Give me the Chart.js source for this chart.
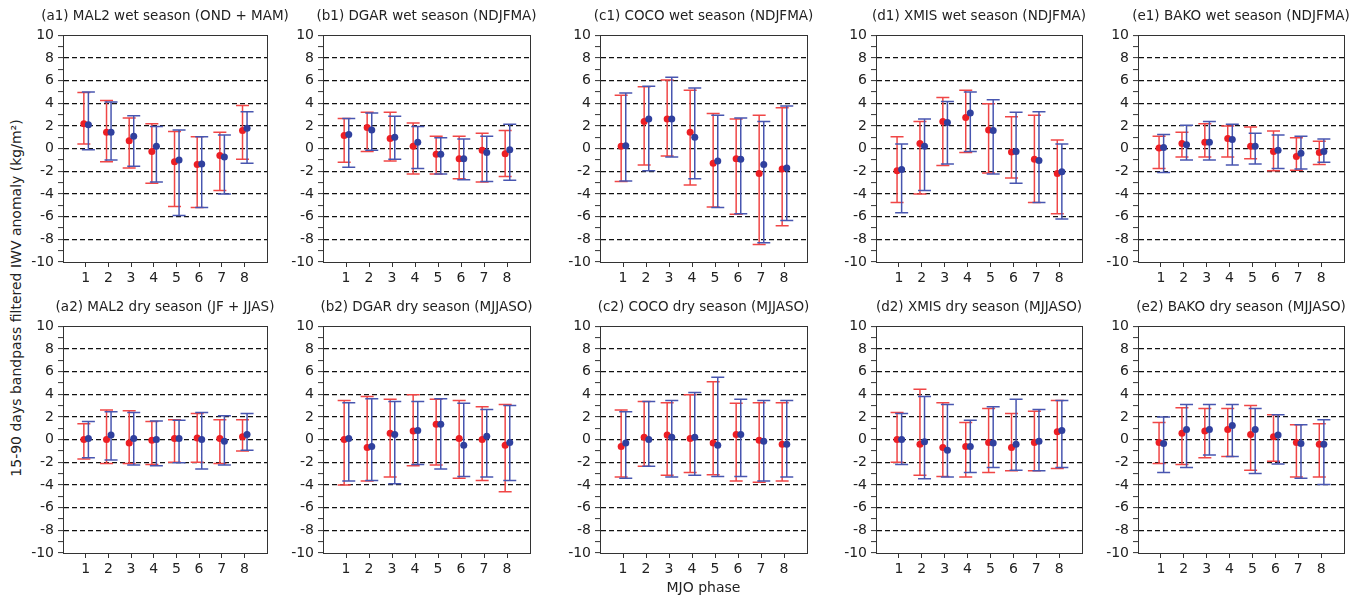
<!DOCTYPE html>
<html>
<head>
<meta charset="utf-8">
<script src="https://cdn.jsdelivr.net/npm/chart.js@4.4.1/dist/chart.umd.min.js"></script>
<style>
  body { margin: 0; background: #fff; width: 1368px; height: 597px; position: relative; overflow: hidden; font-family: "DejaVu Sans", sans-serif; }
  canvas { position: absolute; }
  #ylab { position: absolute; left: 16px; top: 298px; transform: translate(-50%, -50%) rotate(-90deg); white-space: nowrap; font-size: 14px; color: #222; }
</style>
</head>
<body>
<div id="ylab">15-90 days bandpass filtered IWV anomaly (kg/m²)</div>
<script>
// MJO phases
var phases = [1, 2, 3, 4, 5, 6, 7, 8];

// each row: [mean, lower, upper] for phases 1..8
var a1Red  = [[2.2,0.4,4.95],[1.45,-1.15,4.25],[0.7,-1.7,2.7],[-0.25,-3.05,2.2],[-1.15,-5.1,1.5],[-1.4,-5.2,1.05],[-0.6,-3.7,1.45],[1.6,-0.95,3.8]];
var a1Blue = [[2.1,-0.1,5.0],[1.45,-1.0,4.1],[1.1,-1.55,2.9],[0.2,-2.95,1.95],[-1.0,-5.9,1.65],[-1.35,-5.2,1.05],[-0.75,-4.0,1.2],[1.8,-1.3,3.25]];
var b1Red  = [[1.15,-1.2,2.65],[1.85,-0.25,3.2],[0.9,-1.1,3.2],[0.2,-2.25,2.25],[-0.5,-2.25,1.1],[-0.9,-2.65,1.1],[-0.15,-2.95,1.35],[-0.45,-2.45,1.6]];
var b1Blue = [[1.25,-1.65,2.65],[1.65,-0.15,3.15],[1.0,-0.95,2.85],[0.55,-1.75,1.95],[-0.5,-2.25,0.95],[-0.9,-2.75,0.85],[-0.35,-2.9,1.1],[-0.1,-2.8,2.15]];
var c1Red  = [[0.2,-2.9,4.7],[2.4,-1.45,5.45],[2.6,-0.65,6.05],[1.45,-3.2,5.15],[-1.3,-5.15,3.1],[-0.9,-5.8,2.6],[-2.2,-8.45,2.95],[-1.8,-6.8,3.6]];
var c1Blue = [[0.25,-2.85,4.9],[2.6,-1.95,5.5],[2.6,-0.75,6.3],[1.0,-2.65,5.35],[-1.1,-5.2,2.95],[-0.95,-5.75,2.7],[-1.4,-8.3,2.4],[-1.7,-6.35,3.75]];
var d1Red  = [[-1.95,-4.75,1.05],[0.45,-4.0,2.4],[2.4,-1.5,4.5],[2.75,-0.35,5.15],[1.65,-2.15,3.95],[-0.3,-2.6,2.8],[-0.95,-4.75,2.95],[-2.2,-5.75,0.75]];
var d1Blue = [[-1.85,-5.65,0.4],[0.2,-3.7,2.6],[2.3,-1.35,4.15],[3.15,-0.25,5.0],[1.6,-2.25,4.3],[-0.25,-3.05,3.2],[-1.05,-4.75,3.25],[-2.05,-6.2,0.4]];
var e1Red  = [[0.05,-1.75,1.1],[0.45,-0.75,1.45],[0.55,-0.75,2.2],[0.9,-0.75,2.0],[0.2,-0.9,1.9],[-0.25,-1.95,1.55],[-0.7,-1.9,0.95],[-0.35,-1.4,0.65]];
var e1Blue = [[0.1,-2.1,1.25],[0.35,-1.0,2.05],[0.55,-1.0,2.4],[0.8,-1.45,2.15],[0.2,-1.35,1.35],[-0.15,-1.75,1.2],[-0.4,-1.8,1.1],[-0.25,-1.2,0.85]];
var a2Red  = [[0,-1.7,1.4],[0,-2.1,2.6],[-0.3,-2.1,2.55],[-0.05,-2.2,1.6],[0.1,-2.0,1.75],[0.15,-2.0,2.3],[0.1,-2.1,1.75],[0.25,-1.0,1.75]];
var a2Blue = [[0.1,-1.6,1.6],[0.4,-1.8,2.45],[0.1,-2.25,2.4],[0,-2.3,1.65],[0.1,-2.05,1.7],[0,-2.6,2.4],[-0.15,-2.25,2.1],[0.45,-0.95,2.3]];
var b2Red  = [[0,-4.0,3.45],[-0.7,-3.65,3.8],[0.55,-3.3,3.55],[0.75,-2.3,3.95],[1.35,-2.25,3.55],[0.1,-3.4,3.45],[0,-3.6,2.9],[-0.5,-4.6,3.1]];
var b2Blue = [[0.1,-3.65,3.25],[-0.6,-3.6,3.6],[0.45,-3.9,3.35],[0.8,-2.2,3.35],[1.35,-2.6,3.6],[-0.5,-3.25,3.2],[0.3,-3.3,2.65],[-0.25,-3.6,3.0]];
var c2Red  = [[-0.6,-3.3,2.6],[0.2,-2.35,3.35],[0.4,-3.15,3.25],[0.1,-2.9,3.95],[-0.3,-3.1,5.1],[0.45,-3.65,3.2],[-0.05,-3.75,3.25],[-0.4,-3.65,3.25]];
var c2Blue = [[-0.3,-3.4,2.45],[0,-2.35,3.35],[0.2,-3.3,3.45],[0.2,-3.15,4.15],[-0.5,-3.25,5.5],[0.45,-3.25,3.55],[-0.15,-3.65,3.45],[-0.4,-3.3,3.45]];
var d2Red  = [[0,-2.0,2.4],[-0.4,-3.15,4.45],[-0.7,-3.25,3.25],[-0.6,-3.3,1.5],[-0.25,-2.9,2.75],[-0.7,-2.75,2.3],[-0.25,-2.75,2.5],[0.7,-2.55,3.45]];
var d2Blue = [[0,-2.2,2.3],[-0.2,-3.45,3.8],[-0.95,-3.3,3.1],[-0.6,-2.9,1.7],[-0.3,-2.45,2.9],[-0.4,-2.7,3.55],[-0.15,-2.75,2.65],[0.8,-2.45,3.45]];
var e2Red  = [[-0.25,-2.1,1.5],[0.55,-2.2,2.8],[0.75,-1.6,2.75],[0.9,-1.5,2.75],[0.45,-2.7,3.0],[0.25,-1.9,2.2],[-0.25,-3.3,1.3],[-0.4,-3.3,1.4]];
var e2Blue = [[-0.35,-2.9,2.0],[0.9,-2.45,3.1],[0.9,-1.35,3.1],[1.25,-1.5,3.1],[0.9,-3.0,2.75],[0.4,-2.15,2.2],[-0.35,-3.4,1.3],[-0.4,-3.95,1.75]];

var titles = [
    "(a1) MAL2 wet season (OND + MAM)", "(b1) DGAR wet season (NDJFMA)", "(c1) COCO wet season (NDJFMA)",
    "(d1) XMIS wet season (NDJFMA)", "(e1) BAKO wet season (NDJFMA)",
    "(a2) MAL2 dry season (JF + JJAS)", "(b2) DGAR dry season (MJJASO)", "(c2) COCO dry season (MJJASO)",
    "(d2) XMIS dry season (MJJASO)", "(e2) BAKO dry season (MJJASO)"
];

// layout
var plotLefts = [63, 323, 600, 876, 1138];
var plotWidths = [204, 207, 207, 206, 206];
var plotTops = [35, 326];
var plotHeight = 227;

var redDot = 'rgb(236,30,36)', redLine = 'rgb(240,70,70)';
var blueDot = 'rgb(48,64,158)', blueLine = 'rgb(72,86,176)';
var txt = '#222', axisCol = '#333';

function whiskers(rows, dx) {
    var pts = [];
    rows.forEach(function(r, i) {
        pts.push({x: phases[i] + dx, y: r[1]}, {x: phases[i] + dx, y: r[2]}, {x: phases[i] + dx, y: null});
    });
    return pts;
}
function caps(rows, dx) {
    var pts = [];
    rows.forEach(function(r, i) {
        pts.push({x: phases[i] + dx, y: r[1]}, {x: phases[i] + dx, y: r[2]});
    });
    return pts;
}
function means(rows, dx) {
    return rows.map(function(r, i) { return {x: phases[i] + dx, y: r[0]}; });
}

// closes the box on top and right
var frame = {
    id: 'frame',
    beforeDatasetsDraw: function(chart) {
        var a = chart.chartArea, ctx = chart.ctx;
        ctx.save();
        ctx.strokeStyle = axisCol;
        ctx.lineWidth = 1;
        ctx.strokeRect(Math.round(a.left) + 0.5, Math.round(a.top) + 0.5, Math.round(a.right - a.left), Math.round(a.bottom - a.top));
        ctx.restore();
    }
};

function makePanel(col, row, title, red, blue) {
    var yW = 45, titleH = 36;
    var xH = row === 0 ? 28 : 44;
    var w = yW + plotWidths[col] + yW; // empty right axis keeps the title centred over the plot
    var h = titleH + plotHeight + xH;
    var canvas = document.createElement('canvas');
    canvas.width = w;
    canvas.height = h;
    canvas.style.left = (plotLefts[col] - yW) + 'px';
    canvas.style.top = (plotTops[row] - titleH) + 'px';
    document.body.appendChild(canvas);

    var rdx = -0.08, bdx = 0.12;
    new Chart(canvas, {
        type: 'scatter',
        data: {
            datasets: [
                {label: 'blue mean', data: means(blue, bdx), pointRadius: 3.5, pointBackgroundColor: blueDot, pointBorderColor: blueDot, pointBorderWidth: 0},
                {label: 'red mean', data: means(red, rdx), pointRadius: 3.5, pointBackgroundColor: redDot, pointBorderColor: redDot, pointBorderWidth: 0},
                {label: 'blue caps', data: caps(blue, bdx), pointStyle: 'line', pointRadius: 6.5, pointBorderColor: blueLine, pointBorderWidth: 1.5},
                {label: 'blue bars', data: whiskers(blue, bdx), showLine: true, spanGaps: false, pointRadius: 0, borderColor: blueLine, borderWidth: 1.5},
                {label: 'red caps', data: caps(red, rdx), pointStyle: 'line', pointRadius: 6.5, pointBorderColor: redLine, pointBorderWidth: 1.5},
                {label: 'red bars', data: whiskers(red, rdx), showLine: true, spanGaps: false, pointRadius: 0, borderColor: redLine, borderWidth: 1.5}
            ]
        },
        options: {
            responsive: false,
            animation: false,
            devicePixelRatio: 1,
            events: [],
            layout: {padding: 0},
            plugins: {
                legend: {display: false},
                tooltip: {enabled: false},
                title: {
                    display: true,
                    text: title,
                    color: txt,
                    font: {family: 'DejaVu Sans', size: 13.5, weight: 'normal'},
                    padding: {top: 9, bottom: 11}
                }
            },
            scales: {
                x: {
                    type: 'linear',
                    min: 0,
                    max: 9,
                    afterBuildTicks: function(s) { s.ticks = phases.map(function(v) { return {value: v}; }); },
                    afterFit: function(s) { s.height = xH; },
                    grid: {drawOnChartArea: false, tickLength: 5, tickColor: axisCol, tickWidth: 1},
                    border: {color: axisCol, width: 1},
                    ticks: {autoSkip: false, maxRotation: 0, padding: 3, color: txt, font: {family: 'DejaVu Sans', size: 14}},
                    title: {display: col === 2 && row === 1, text: 'MJO phase', color: txt, font: {family: 'DejaVu Sans', size: 14}, padding: {top: 0, bottom: 0}}
                },
                y: {
                    min: -10,
                    max: 10,
                    afterFit: function(s) { s.width = yW; },
                    grid: {
                        color: function(c) {
                            var v = c.tick ? c.tick.value : 1;
                            return (v % 2 === 0 && Math.abs(v) < 10) ? '#111' : 'rgba(0,0,0,0)';
                        },
                        lineWidth: 1.2,
                        tickColor: axisCol,
                        tickWidth: 1,
                        tickLength: 5
                    },
                    border: {color: axisCol, width: 1, dash: [5, 3]},
                    ticks: {
                        stepSize: 1,
                        autoSkip: false,
                        padding: 4,
                        color: txt,
                        font: {family: 'DejaVu Sans', size: 14},
                        callback: function(v) { return v % 2 === 0 ? String(v) : ''; }
                    }
                },
                yRight: {
                    position: 'right',
                    min: -10,
                    max: 10,
                    afterFit: function(s) { s.width = yW; },
                    ticks: {display: false},
                    grid: {display: false},
                    border: {display: false}
                }
            }
        },
        plugins: [frame]
    });
}

var allRed = [a1Red, b1Red, c1Red, d1Red, e1Red, a2Red, b2Red, c2Red, d2Red, e2Red];
var allBlue = [a1Blue, b1Blue, c1Blue, d1Blue, e1Blue, a2Blue, b2Blue, c2Blue, d2Blue, e2Blue];
for (var k = 0; k < 10; k++) {
    makePanel(k % 5, Math.floor(k / 5), titles[k], allRed[k], allBlue[k]);
}
</script>
</body>
</html>
